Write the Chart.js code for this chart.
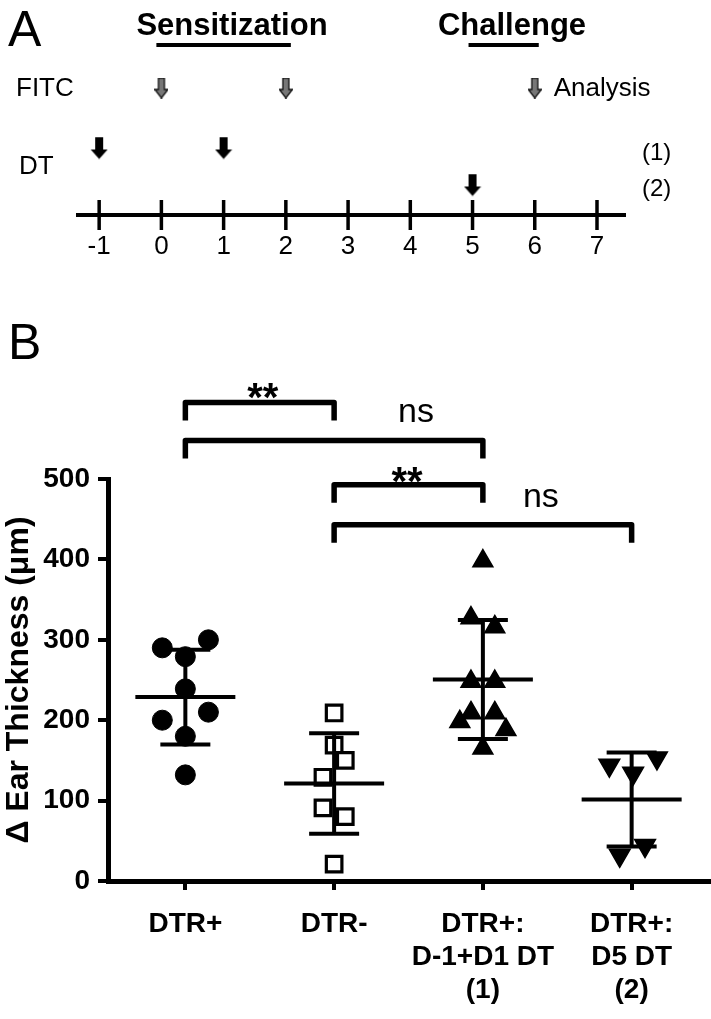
<!DOCTYPE html>
<html>
<head>
<meta charset="utf-8">
<script src="https://cdn.jsdelivr.net/npm/chart.js@4.4.1/dist/chart.umd.min.js"></script>
<style>
    html, body { margin: 0; padding: 0; background: #fff; }
    #wrapA { position: absolute; left: 0; top: 0; width: 711px; height: 275px; }
    #wrapB { position: absolute; left: 0; top: 275px; width: 711px; height: 744px; }
</style>
</head>
<body>
<div id="wrapA"><canvas id="timeline" width="711" height="275"></canvas></div>
<div id="wrapB"><canvas id="earChart" width="711" height="744"></canvas></div>
<script>
// ---- panel A : protocol timeline ----
const days = [-1, 0, 1, 2, 3, 4, 5, 6, 7];
const fitcDays = [0, 2];
const analysisDays = [6];
const dtDays1 = [-1, 1];
const dtDays2 = [5];
const sensitizationPeriod = [0, 2];
const challengePeriod = [5, 6];

// ---- panel B : ear thickness ----
const groupLabels = [['DTR+'], ['DTR-'], ['DTR+:', 'D-1+D1 DT', '(1)'], ['DTR+:', 'D5 DT', '(2)']];
const dtrPos = [290, 300, 279, 239, 200, 210, 180, 132];
const dtrNeg = [209, 169, 150, 129, 91, 80, 21];
const dtrPosD1 = [398, 327, 316, 248, 248, 209, 209, 198, 188, 165];
const dtrPosD5 = [153, 144, 134, 44, 32];
// horizontal scatter of the points inside a column (category units)
const jitPos = [-0.155, 0.155, 0, 0, -0.155, 0.155, 0, 0];
const jitNeg = [0, 0, 0.075, -0.075, -0.075, 0.075, 0];
const jitD1 = [0, -0.08, 0.08, -0.08, 0.08, -0.08, 0.08, -0.155, 0.155, 0];
const jitD5 = [0.17, -0.15, 0.01, 0.09, -0.08];
const yTicks = [0, 100, 200, 300, 400, 500];
const comparisons = [
    { a: 0, b: 1, label: '**', level: 595, labelX: 0.52, labelY: 610 },
    { a: 0, b: 2, label: 'ns', level: 548, labelX: 1.55, labelY: 582 },
    { a: 1, b: 2, label: '**', level: 493, labelX: 1.49, labelY: 505 },
    { a: 1, b: 3, label: 'ns', level: 443, labelX: 2.39, labelY: 477 }
];

const FONT = '"Liberation Sans", Arial, Helvetica, sans-serif';

function arrowImage(w, h, shaftW, headH, fill, stroke) {
    const c = document.createElement('canvas');
    c.width = w; c.height = h;
    const g = c.getContext('2d');
    const cx = w / 2;
    g.beginPath();
    g.moveTo(cx - shaftW / 2, 0.5);
    g.lineTo(cx + shaftW / 2, 0.5);
    g.lineTo(cx + shaftW / 2, h - headH);
    g.lineTo(w - 0.5, h - headH);
    g.lineTo(cx, h - 0.5);
    g.lineTo(0.5, h - headH);
    g.lineTo(cx - shaftW / 2, h - headH);
    g.closePath();
    g.fillStyle = fill;
    g.fill();
    if (stroke) {
        g.strokeStyle = stroke;
        g.lineWidth = 1.3;
        g.stroke();
    }
    return c;
}
const grayArrow = arrowImage(14, 21, 6, 9, '#777', '#111');
const blackArrow = arrowImage(18, 23, 8, 10, '#000', null);

// rows of panel A (pixels from top of the plot area)
const ROW_FITC = 88, ROW_DT1 = 148, ROW_DT2 = 185, ROW_AXIS = 215;

const timelineText = {
    id: 'timelineText',
    afterDraw(chart) {
        const { ctx, scales: { x } } = chart;
        ctx.save();
        ctx.fillStyle = '#000';
        ctx.strokeStyle = '#000';
        ctx.textBaseline = 'alphabetic';
        ctx.textAlign = 'left';
        ctx.font = '50px ' + FONT;
        ctx.fillText('A', 8, 46);

        ctx.textAlign = 'center';
        ctx.font = 'bold 31px ' + FONT;
        ctx.fillText('Sensitization', 232, 35);
        ctx.fillText('Challenge', 512, 35);
        ctx.lineWidth = 4;
        [[sensitizationPeriod, 5], [challengePeriod, 4]].forEach(([p, ext]) => {
            ctx.beginPath();
            ctx.moveTo(x.getPixelForValue(p[0]) - ext, 45);
            ctx.lineTo(x.getPixelForValue(p[1]) + ext, 45);
            ctx.stroke();
        });

        ctx.textAlign = 'left';
        ctx.textBaseline = 'middle';
        ctx.font = '26px ' + FONT;
        ctx.fillText('FITC', 16, 89);
        ctx.fillText('DT', 19, 167);
        ctx.fillText('Analysis', x.getPixelForValue(6) + 19, 89);
        ctx.font = '24px ' + FONT;
        ctx.fillText('(1)', 642, 153);
        ctx.fillText('(2)', 642, 189);
        ctx.restore();
    }
};

new Chart(document.getElementById('timeline'), {
    type: 'scatter',
    data: {
        datasets: [
            {
                data: days.map(d => ({ x: d, y: ROW_AXIS })),
                pointStyle: 'line', rotation: 90, radius: 15,
                borderColor: '#000', borderWidth: 3.5
            },
            {
                data: fitcDays.concat(analysisDays).map(d => ({ x: d, y: ROW_FITC })),
                pointStyle: grayArrow
            },
            {
                data: dtDays1.map(d => ({ x: d, y: ROW_DT1 })),
                pointStyle: blackArrow
            },
            {
                data: dtDays2.map(d => ({ x: d, y: ROW_DT2 })),
                pointStyle: blackArrow
            }
        ]
    },
    options: {
        responsive: false,
        animation: false,
        clip: false,
        layout: { autoPadding: false, padding: { left: 78, right: 86, top: 0, bottom: 0 } },
        plugins: { legend: { display: false }, tooltip: { enabled: false } },
        scales: {
            x: {
                type: 'linear', min: -1.34, max: 7.45,
                afterBuildTicks: s => { s.ticks = days.map(v => ({ value: v })); },
                afterFit: s => { s.height = 60; s.paddingLeft = 0; s.paddingRight = 0; },
                border: { color: '#000', width: 4 },
                grid: { display: false, drawTicks: false },
                ticks: { color: '#000', padding: 16, font: { family: FONT, size: 26 } }
            },
            y: {
                display: false, reverse: true, min: 0, max: ROW_AXIS
            }
        }
    },
    plugins: [timelineText]
});

// ---- panel B ----
function mean(a) { return a.reduce((s, v) => s + v, 0) / a.length; }
function sd(a) {
    const m = mean(a);
    return Math.sqrt(a.reduce((s, v) => s + (v - m) * (v - m), 0) / (a.length - 1));
}
const groups = [dtrPos, dtrNeg, dtrPosD1, dtrPosD5];
const jitters = [jitPos, jitNeg, jitD1, jitD5];
const means = groups.map(mean);
const sds = groups.map(sd);

const pointSets = [
    { pointStyle: 'circle', radius: 10, backgroundColor: '#000', borderColor: '#000', borderWidth: 1 },
    { pointStyle: 'rect', radius: 11, backgroundColor: '#fff', borderColor: '#000', borderWidth: 3.2 },
    { pointStyle: 'triangle', radius: 11.5, backgroundColor: '#000', borderColor: '#000', borderWidth: 1.5 },
    { pointStyle: 'triangle', rotation: 180, radius: 12, backgroundColor: '#000', borderColor: '#000', borderWidth: 1.5 }
];

const datasets = [];
groups.forEach((g, i) => {
    datasets.push(Object.assign({
        data: g.map((v, k) => ({ x: i + jitters[i][k], y: v })),
        order: 3
    }, pointSets[i]));
});
groups.forEach((g, i) => {
    datasets.push({
        data: [{ x: i, y: means[i] - sds[i] }, { x: i, y: means[i] + sds[i] }],
        showLine: true, borderColor: '#000', borderWidth: 4, pointRadius: 0, order: 1
    });
});
datasets.push({
    data: means.map((m, i) => ({ x: i, y: m })),
    pointStyle: 'line', radius: 50, borderColor: '#000', borderWidth: 4, order: 1
});
datasets.push({
    data: means.flatMap((m, i) => [{ x: i, y: m - sds[i] }, { x: i, y: m + sds[i] }]),
    pointStyle: 'line', radius: 25, borderColor: '#000', borderWidth: 4, order: 1
});

const brackets = {
    id: 'brackets',
    afterDraw(chart) {
        const { ctx, scales: { x, y } } = chart;
        ctx.save();
        ctx.fillStyle = '#000';
        ctx.strokeStyle = '#000';
        ctx.font = '50px ' + FONT;
        ctx.textAlign = 'left';
        ctx.textBaseline = 'alphabetic';
        ctx.fillText('B', 8, 84);

        ctx.lineWidth = 5.5;
        ctx.lineJoin = 'round';
        ctx.textAlign = 'center';
        ctx.textBaseline = 'middle';
        comparisons.forEach(c => {
            const x1 = x.getPixelForValue(c.a), x2 = x.getPixelForValue(c.b);
            const yt = y.getPixelForValue(c.level);
            ctx.beginPath();
            ctx.moveTo(x1, yt + 18);
            ctx.lineTo(x1, yt);
            ctx.lineTo(x2, yt);
            ctx.lineTo(x2, yt + 18);
            ctx.stroke();
            ctx.font = c.label === '**' ? 'bold 40px ' + FONT : '34px ' + FONT;
            const dy = c.label === '**' ? 9 : 0;
            ctx.fillText(c.label, x.getPixelForValue(c.labelX), y.getPixelForValue(c.labelY) + dy);
        });
        ctx.restore();
    }
};

new Chart(document.getElementById('earChart'), {
    type: 'scatter',
    data: { datasets: datasets },
    options: {
        responsive: false,
        animation: false,
        clip: false,
        layout: { autoPadding: false, padding: { left: 0, right: 2, top: 204, bottom: 0 } },
        plugins: { legend: { display: false }, tooltip: { enabled: false } },
        scales: {
            x: {
                type: 'linear', min: -0.52, max: 3.52,
                afterBuildTicks: s => { s.ticks = groupLabels.map((l, i) => ({ value: i })); },
                afterFit: s => { s.height = 138; s.paddingLeft = 0; s.paddingRight = 0; },
                border: { color: '#000', width: 5 },
                grid: { drawOnChartArea: false, tickLength: 9, lineWidth: 4, color: '#000' },
                ticks: {
                    color: '#000', padding: 18, autoSkip: false, maxRotation: 0,
                    font: { family: FONT, size: 28, weight: 'bold', lineHeight: 1.17 },
                    callback: v => groupLabels[v]
                }
            },
            y: {
                min: 0, max: 500,
                afterBuildTicks: s => { s.ticks = yTicks.map(v => ({ value: v })); },
                afterFit: s => { s.width = 108; },
                border: { color: '#000', width: 5 },
                grid: { drawOnChartArea: false, tickLength: 10, lineWidth: 4, color: '#000' },
                ticks: { color: '#000', padding: 8, font: { family: FONT, size: 28, weight: 'bold' } },
                title: {
                    display: true, text: 'Δ Ear Thickness (μm)', color: '#000', padding: 0,
                    font: { family: FONT, size: 32, weight: 'bold' }
                }
            }
        }
    },
    plugins: [brackets]
});
</script>
</body>
</html>
